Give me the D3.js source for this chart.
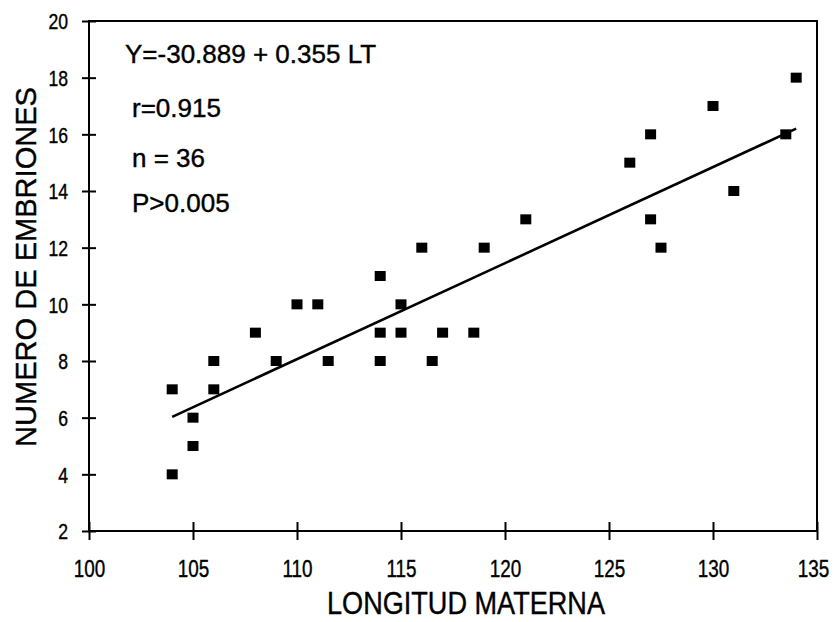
<!DOCTYPE html>
<html>
<head>
<meta charset="utf-8">
<script src="https://cdn.jsdelivr.net/npm/d3@7"></script>
<style>
  body { margin: 0; background: #fff; }
  text { font-family: "Liberation Sans", Arial, sans-serif; fill: #000; stroke: #000; stroke-width: 0.4px; }
</style>
</head>
<body>
<svg id="chart"></svg>
<script>
// values
var longitud = [104, 104, 105, 105, 106, 106, 108, 109, 110, 111, 111.5, 114, 114, 114, 115, 115,
  116, 116.5, 117, 118.5, 119, 121, 126, 127, 127, 127.5, 130, 131, 133.5, 134];
var embriones = [4, 7, 5, 6, 7, 8, 9, 8, 10, 10, 8, 8, 9, 11, 9, 10,
  12, 8, 9, 9, 12, 13, 15, 13, 16, 12, 17, 14, 16, 18];

// fitted line as drawn (end points)
var fitX = [104, 134];
var fitY = [6.03, 16.2];

var xTicks = [100, 105, 110, 115, 120, 125, 130, 135];
var yTicks = [2, 4, 6, 8, 10, 12, 14, 16, 18, 20];

var stats = ["Y=-30.889 + 0.355 LT", "r=0.915", "n = 36", "P>0.005"];

const width = 836;
const height = 622;

var margin = { top: 21, bottom: 91, left: 89, right: 19 };

const svg = d3.select("#chart")
  .attr("width", width)
  .attr("height", height);

const xScale = d3.scaleLinear()
  .domain([100, 135])
  .range([margin.left, width - margin.right]);

const yScale = d3.scaleLinear()
  .domain([2, 20])
  .range([height - margin.bottom, margin.top]);

drawAxis();
drawLine();
drawPoints();
drawStats();
drawTitles();

function translate(x, y) {
  return "translate(" + String(x) + "," + String(y) + ")";
}

// squeeze text horizontally, the scan uses a narrow face
function condense(sel, ratio) {
  sel.each(function() {
    let len = this.getComputedTextLength();
    d3.select(this)
      .attr("textLength", len * ratio)
      .attr("lengthAdjust", "spacingAndGlyphs");
  });
}

function drawAxis() {
  let xAxis = d3.axisBottom(xScale).tickValues(xTicks).tickFormat(d3.format("d")).tickSizeOuter(0);
  let yAxis = d3.axisLeft(yScale).tickValues(yTicks).tickFormat(d3.format("d")).tickSizeOuter(0);

  let gx = svg.append("g")
    .attr("id", "x-axis")
    .attr("transform", translate(0, height - margin.bottom))
    .call(xAxis);

  let gy = svg.append("g")
    .attr("id", "y-axis")
    .attr("transform", translate(margin.left, 0))
    .call(yAxis);

  gx.select("path.domain").remove();
  gy.select("path.domain").remove();

  // ticks cross the axis line
  gx.selectAll(".tick line")
    .attr("y1", -9).attr("y2", 9)
    .attr("stroke", "#000").attr("stroke-width", 2);
  gy.selectAll(".tick line")
    .attr("x1", -7).attr("x2", 7)
    .attr("stroke", "#000").attr("stroke-width", 2);

  gx.selectAll(".tick text")
    .attr("y", 46).attr("dy", 0)
    .attr("font-size", 23)
    .attr("font-family", null);
  gy.selectAll(".tick text")
    .attr("x", -21).attr("dy", "0.36em")
    .attr("font-size", 22)
    .attr("font-family", null);

  // last label sits against the page edge
  gx.selectAll(".tick text")
    .filter(d => d == 135)
    .attr("x", -4);

  condense(gx.selectAll(".tick text"), 0.82);
  condense(gy.selectAll(".tick text"), 0.8);

  // plot frame
  svg.append("rect")
    .attr("x", margin.left)
    .attr("y", margin.top)
    .attr("width", width - margin.left - margin.right)
    .attr("height", height - margin.top - margin.bottom)
    .attr("fill", "none")
    .attr("stroke", "#000")
    .attr("stroke-width", 2);
}

function drawLine() {
  let pts = fitX.map((d, i) => [d, fitY[i]]);
  let line = d3.line()
    .x(d => xScale(d[0]))
    .y(d => yScale(d[1]));

  svg.append("path")
    .attr("d", line(pts))
    .attr("fill", "none")
    .attr("stroke", "#000")
    .attr("stroke-width", 2.6);
}

function drawPoints() {
  let w = 11;
  let h = 10;
  svg.append("g")
    .attr("id", "points")
    .selectAll("rect")
    .data(longitud)
    .enter()
    .append("rect")
    .attr("x", d => xScale(d) - w / 2)
    .attr("y", (d, i) => yScale(embriones[i]) - h / 2)
    .attr("width", w)
    .attr("height", h)
    .attr("fill", "#000");
}

function drawStats() {
  let pos = [[125, 63], [132, 117], [132, 167], [132, 212]];
  svg.append("g")
    .attr("id", "stats")
    .selectAll("text")
    .data(stats)
    .enter()
    .append("text")
    .attr("x", (d, i) => pos[i][0])
    .attr("y", (d, i) => pos[i][1])
    .attr("font-size", 26)
    .text(d => d);
}

function drawTitles() {
  svg.append("text")
    .attr("x", 466)
    .attr("y", 614)
    .attr("text-anchor", "middle")
    .attr("font-size", 32)
    .attr("textLength", 278)
    .attr("lengthAdjust", "spacingAndGlyphs")
    .text("LONGITUD MATERNA");

  // rotate inside a group so the origin stays put
  let yGroup = svg.append("g")
    .attr("transform", translate(36, 267));

  yGroup.append("text")
    .attr("x", 0)
    .attr("y", 0)
    .attr("text-anchor", "middle")
    .attr("transform", "rotate(-90)")
    .attr("font-size", 30)
    .attr("textLength", 360)
    .attr("lengthAdjust", "spacingAndGlyphs")
    .text("NUMERO DE EMBRIONES");
}
</script>
</body>
</html>
